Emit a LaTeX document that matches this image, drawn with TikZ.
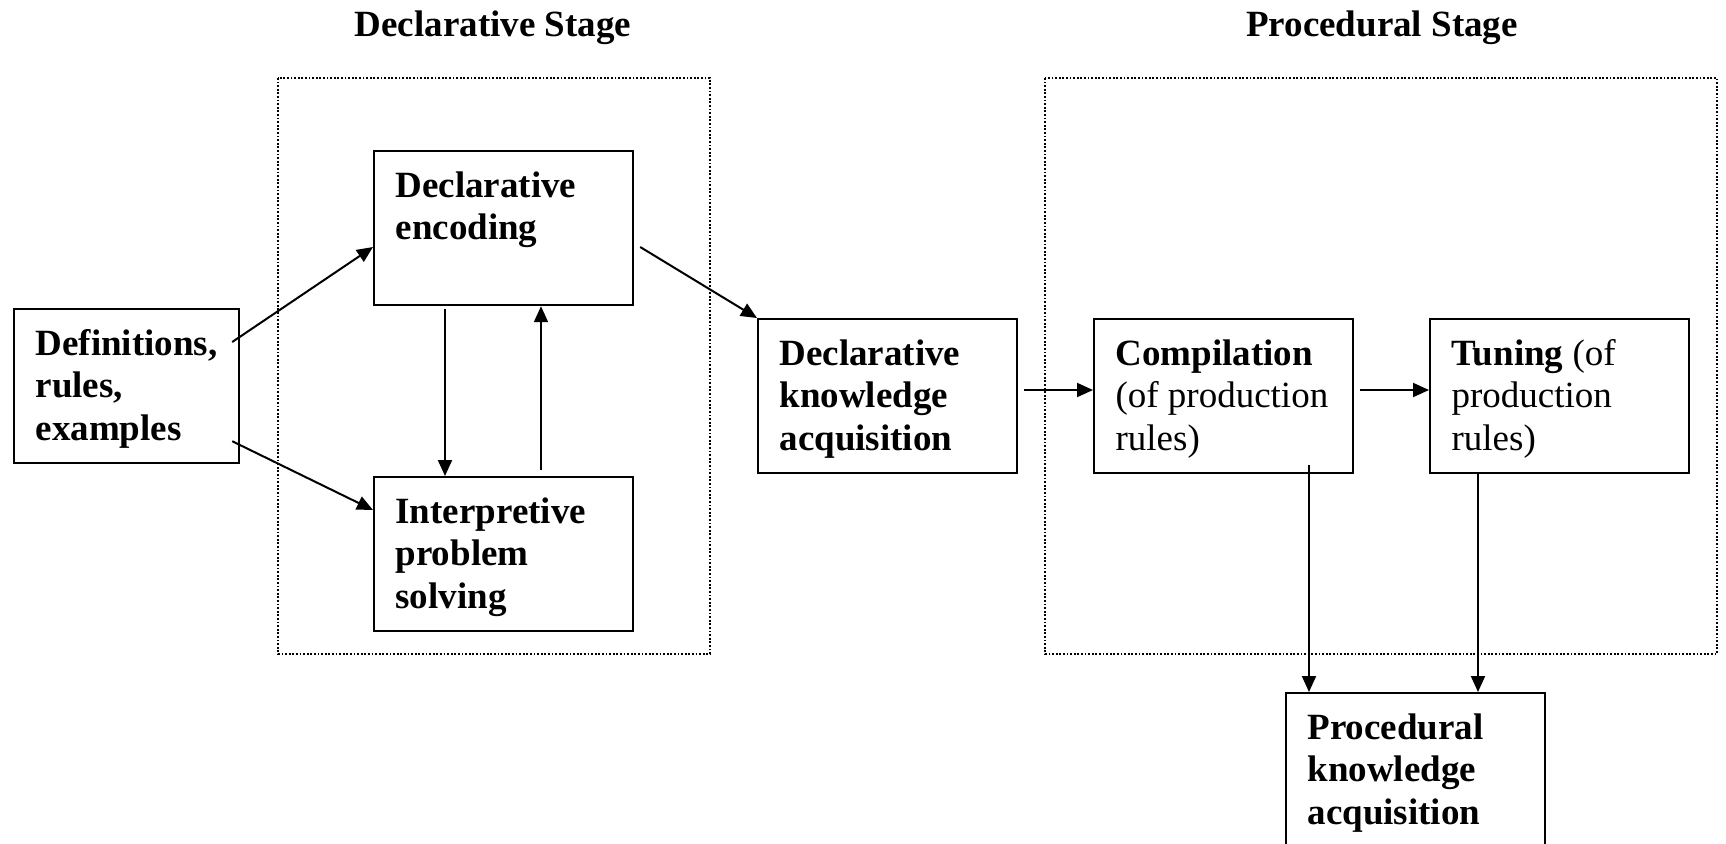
\documentclass[tikz,border=0pt]{standalone}
\usepackage{fontspec}
\setmainfont{Liberation Serif}
\usetikzlibrary{arrows.meta,calc}
\newcommand\boxtxt[3]{\parbox[c][#2][t]{#1}{\raggedright\leftskip=10.75pt\relax\rule{0pt}{23pt}#3}}
\begin{document}
\begin{tikzpicture}[x=0.5pt,y=-0.5pt,
  every node/.style={font=\fontsize{18.5pt}{21.25pt}\selectfont},
  stepbox/.style={draw=black,line width=1.1pt,inner sep=0pt,anchor=north west},
  stagebox/.style={draw=black,line width=0.9pt,dash pattern=on 0.9pt off 0.9pt},
  conn/.style={draw=black,line width=1pt,-{Triangle[length=8pt,width=7pt]}},
  title/.style={anchor=base,font=\fontsize{18.5pt}{21.25pt}\selectfont\bfseries}]
\useasboundingbox (0,0) rectangle (1726,843);
% stage frames
\draw[stagebox] (278,78) rectangle (710,654);
\draw[stagebox] (1045,78) rectangle (1717,654);
\node[title] (t1) at (493,36) {Declarative Stage};
\node[title] (t2) at (1382,36) {Procedural Stage};
% boxes
\node[stepbox] (A) at (13,308) {\boxtxt{112.5pt}{77pt}{\bfseries Definitions,\\rules,\\examples}};
\node[stepbox] (B) at (373,150) {\boxtxt{129.5pt}{77pt}{\bfseries Declarative\\encoding}};
\node[stepbox] (C) at (373,476) {\boxtxt{129.5pt}{77pt}{\bfseries Interpretive\\problem\\solving}};
\node[stepbox] (D) at (757,318) {\boxtxt{129.5pt}{77pt}{\bfseries Declarative\\knowledge\\acquisition}};
\node[stepbox] (E) at (1093,318) {\boxtxt{129.5pt}{77pt}{\textbf{Compilation}\\(of production\\rules)}};
\node[stepbox] (F) at (1429,318) {\boxtxt{129.5pt}{77pt}{\textbf{Tuning} (of\\production\\rules)}};
\node[stepbox] (G) at (1285,692) {\boxtxt{129.5pt}{77pt}{\bfseries Procedural\\knowledge\\acquisition}};
% connectors
\draw[conn] ($(A.north east)+(-8,34)$) -- ($(B.north west)+(0,97)$);
\draw[conn] ($(A.south east)+(-8,-23)$) -- ($(C.north west)+(0,34)$);
\draw[conn] ($(B.south west)+(72,3)$) -- ($(C.north west)+(72,0)$);
\draw[conn] ($(C.north west)+(168,-6)$) -- ($(B.south west)+(168,0)$);
\draw[conn] ($(B.north east)+(6,97)$) -- (D.north west);
\draw[conn] ($(D.north east)+(6,72)$) -- ($(E.north west)+(0,72)$);
\draw[conn] ($(E.north east)+(6,72)$) -- ($(F.north west)+(0,72)$);
\draw[conn] ($(E.south west)+(216,-9)$) -- ($(G.north west)+(24,0)$);
\draw[conn] ($(F.south west)+(49,0)$) -- ($(G.north west)+(193,0)$);
\end{tikzpicture}
\end{document}
